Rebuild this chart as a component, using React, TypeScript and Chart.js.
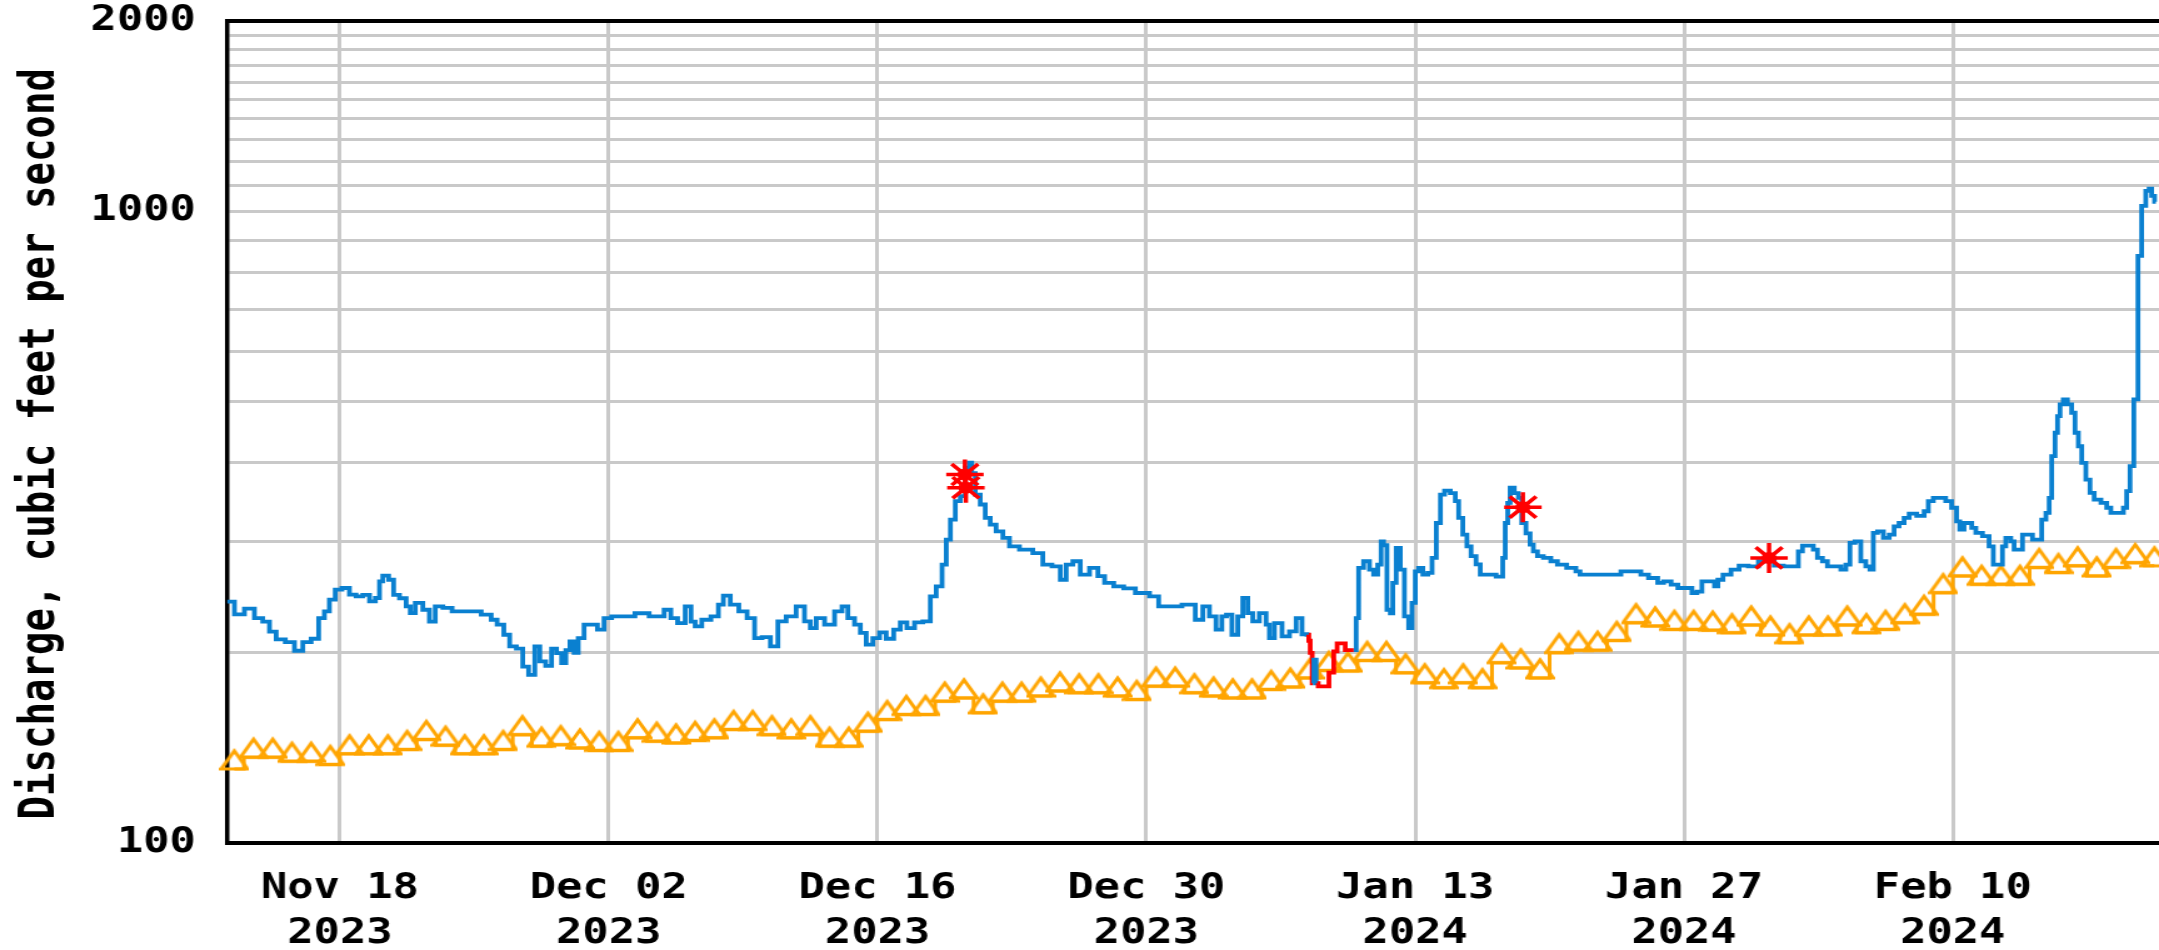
import React, { useEffect, useRef } from "react";
import { Chart, registerables } from "chart.js";

Chart.register(...registerables);

// ---------- axis / tick data ----------
// x values are days counted from 2023-11-18 00:00
const X_MIN = -5.88;
const X_MAX = 94.74;
const tickDays = [0, 14, 28, 42, 56, 70, 84];
const tickDates = ["Nov 18", "Dec 02", "Dec 16", "Dec 30", "Jan 13", "Jan 27", "Feb 10"];
const tickYears = ["2023", "2023", "2023", "2023", "2024", "2024", "2024"];
const yGridValues = [100, 200, 300, 400, 500, 600, 700, 800, 900, 1000, 1100, 1200, 1300, 1400, 1500, 1600, 1700, 1800, 1900, 2000];
const yLabeled = [100, 1000, 2000];
const yTitle = "Discharge, cubic feet per second";

// ---------- discharge (cfs), [day, value] ----------
const blueNov: [number, number][] = [
  [-5.88, 241], [-5.71, 241], [-5.28, 230], [-4.67, 235], [-4.24, 227], [-3.8, 224], [-3.54, 216], [-3.1, 210],
  [-2.59, 208], [-2.15, 201.5], [-1.72, 208], [-1.28, 210.5], [-0.94, 227], [-0.68, 232.6], [-0.42, 242.7],
  [-0.07, 251.8], [0.28, 253.3], [0.71, 247.2], [0.97, 245.6], [1.41, 247], [1.67, 241.2], [2.02, 244.2],
  [2.1, 259.5], [2.36, 264.9], [2.71, 261], [2.88, 247], [3.32, 244], [3.58, 236.8], [3.75, 231.2], [4.1, 239.9],
  [4.53, 234], [4.79, 224], [5.14, 236.8], [5.58, 235.5], [6.1, 232.6], [6.97, 232.6], [7.75, 229.8], [8.01, 225.6],
  [8.36, 221.6], [8.71, 213.6], [8.97, 204.7], [9.41, 203], [9.63, 190.2], [10.02, 184.6], [10.28, 204.7],
  [10.54, 193.8], [10.89, 190.7], [11.15, 203], [11.41, 199.8], [11.68, 192.6], [11.85, 201.9], [12.11, 208.5],
  [12.28, 200], [12.54, 211], [12.89, 221.6],
];
const blueDec: [number, number][] = [
  [13.24, 221.6], [13.58, 217.6], [13.93, 227], [14.37, 228.4], [15.23, 228.4], [15.5, 231], [16.71, 228.4],
  [17.06, 234], [17.41, 227], [17.76, 222.8], [18.2, 236.8], [18.37, 224], [18.63, 220.2], [19.06, 225.6],
  [19.58, 228.4], [19.84, 238.4], [20.1, 246.3], [20.56, 238.4], [20.99, 232.6], [21.42, 227], [21.77, 211],
  [22.2, 211.8], [22.64, 204.7], [22.98, 224.2], [23.5, 228.4], [24.02, 236.8], [24.37, 224.2], [24.63, 218.9],
  [24.98, 227], [25.5, 221.6], [26.02, 232.6], [26.28, 236.8], [26.63, 227], [26.97, 221.6], [27.24, 215],
  [27.58, 206], [27.93, 211], [28.28, 215.5], [28.62, 210.5], [29.06, 217.6], [29.31, 223.5], [29.75, 218.9],
  [30.1, 223.5], [30.62, 224.2], [30.88, 245.7], [31.23, 254.8], [31.49, 275.8], [31.67, 302.1], [31.92, 325],
  [32.18, 347.5], [32.44, 354], [32.7, 392.6], [32.85, 400], [32.96, 385], [33.22, 356], [33.48, 343.4],
  [33.74, 327], [34.0, 319], [34.35, 311.4], [34.7, 304], [35.04, 294.8], [35.74, 291.3], [36.43, 287.7],
  [36.78, 275.8], [37.39, 274.1], [37.65, 261], [38.0, 275.8], [38.34, 279.2], [38.78, 266], [39.3, 272.5],
  [39.65, 264.5], [40.0, 258], [40.6, 254.8], [41.04, 253], [41.82, 248.7], [42.51, 245.7], [42.77, 236.8],
  [43.38, 236.8],
];
const blueJan: [number, number][] = [
  [44.33, 238.4], [44.77, 225.6], [45.11, 236.8], [45.46, 228.4], [45.8, 217.6], [46.06, 228.4], [46.28, 229.8],
  [46.63, 213.6], [46.89, 228.4], [47.15, 244.2], [47.41, 231.2], [47.67, 224.2], [48.1, 231.2], [48.37, 221.6],
  [48.45, 211], [48.89, 222.9], [49.24, 212.3], [49.67, 216.2], [49.93, 227], [50.28, 214], [50.45, 213.6],
  [50.47, 209], [50.6, 200], [50.67, 179], [50.78, 195], [50.9, 179], [51.0, 177], [51.35, 177], [51.67, 186],
  [51.85, 201], [52.02, 207], [52.27, 207], [52.45, 202], [52.8, 202], [52.88, 202], [52.97, 227], [53.14, 272.5],
  [53.49, 279.2], [53.75, 270.8], [53.92, 266], [54.18, 275.8], [54.27, 300.3], [54.44, 296], [54.62, 234],
  [54.79, 231], [54.88, 258], [55.14, 293.1], [55.31, 270.8], [55.57, 228.4], [55.75, 218.9], [55.92, 239.9],
  [56.09, 269.2], [56.27, 272.5], [56.53, 266], [56.79, 267.6], [56.97, 282.7], [57.23, 321], [57.4, 356],
  [57.66, 361.3], [58.0, 358], [58.18, 347.5], [58.35, 327], [58.61, 307.7], [58.78, 294.8], [59.04, 284.4],
  [59.3, 276], [59.48, 266], [59.91, 266], [60.52, 264], [60.6, 282.7], [60.78, 321], [60.86, 345.4], [61.03, 365],
  [61.29, 358], [61.46, 351.8], [61.64, 321], [61.9, 309], [62.07, 296.7], [62.24, 289.5], [62.5, 284.4],
  [62.85, 282.7], [63.28, 279.2], [63.54, 275.8], [64.24, 272.5], [64.5, 269.2], [64.67, 266], [66.67, 266],
  [66.76, 269.2], [67.71, 269.2], [67.8, 266], [68.5, 262.7], [68.76, 258], [69.11, 259.5], [69.55, 256.4],
  [69.81, 253.3], [70.33, 253.3], [70.5, 248.7], [70.85, 250], [71.02, 259.5], [71.55, 259.5], [71.63, 254.8],
  [71.9, 261], [72.16, 266], [72.74, 270.8], [73.0, 274.8], [73.7, 274], [74.05, 279.2], [74.4, 282.7],
];
const blueFeb: [number, number][] = [
  [75.0, 274.8], [75.35, 274], [75.87, 274], [76.04, 289.5], [76.3, 295.5], [76.65, 295.5], [76.82, 291.3],
  [77.08, 282.7], [77.34, 279.2], [77.6, 274], [78.04, 274], [78.3, 270.8], [78.56, 275.8], [78.73, 298.5],
  [79.08, 300.3], [79.34, 279.2], [79.6, 274], [79.77, 270.8], [79.95, 309.6], [80.21, 311.4], [80.56, 304],
  [80.82, 307.7], [81.07, 317.1], [81.33, 321], [81.6, 327], [81.86, 332.2], [82.38, 329.5], [82.64, 335],
  [82.81, 347.5], [83.16, 351.8], [83.5, 351.8], [83.76, 347.5], [84.11, 339.3], [84.28, 323], [84.45, 313.4],
  [84.72, 321], [84.9, 321], [85.07, 315.3], [85.33, 309.6], [85.76, 305.9], [86.02, 294.8], [86.2, 275.8],
  [86.54, 275.8], [86.63, 294.8], [86.89, 304], [87.15, 300.3], [87.24, 291.3], [87.59, 291.3], [87.67, 307.7],
  [88.02, 307.7], [88.28, 302.1], [88.54, 302.1], [88.72, 325], [88.98, 333], [89.06, 351.8], [89.24, 409.5],
  [89.41, 446], [89.5, 473.7], [89.67, 494.6], [89.84, 503.5], [90.1, 494.6], [90.28, 479.7], [90.45, 446],
  [90.63, 424.6], [90.8, 399.6], [91.06, 376], [91.23, 358.2], [91.5, 349.6], [91.93, 345.4], [92.1, 339.3],
  [92.36, 333], [92.8, 333], [92.97, 339.3], [93.14, 360.4], [93.32, 394.8], [93.54, 503.5], [93.75, 849.6],
  [93.92, 1019.5], [94.18, 1077], [94.27, 1086], [94.44, 1057.6], [94.58, 1035],
];
// estimated-data periods (drawn red), in days from 2023-11-18
const estRanges: [number, number][] = [[50.46, 50.7], [50.95, 52.85]];

// ---------- median daily statistic (cfs) ----------
const medianNovStart = 12; // Nov 12 .. Nov 30
const medianNov = [131, 136.7, 136.7, 134.7, 134.7, 133.1, 138.4, 138.4, 138.4, 140.6, 145.8, 142.8, 138.4, 138.4, 140.6, 148.4, 142.3, 143.1, 141.4];
const medianDec = [140.1, 140.1, 146.7, 144.9, 144.0, 145.3, 146.7, 151.2, 151.2, 148.4, 146.7, 148.4, 142.3, 142.3, 150.3, 156.8, 159.7, 159.7, 167.7, 169.7, 160.7, 167.7, 167.7, 170.8, 174.0, 172.9, 172.9, 170.8, 168.7, 177.1, 177.1];
const medianJan = [172.9, 170.8, 169.7, 169.7, 175, 176.5, 182.5, 187.5, 187.1, 194.5, 194.5, 185.9, 179.3, 176.1, 179.3, 176.1, 192.9, 189.3, 182.5, 200.1, 201.8, 201.8, 209.2, 223.2, 220.5, 217.8, 217.8, 217.2, 215.2, 221.3, 213.4];
const medianFeb = [207.5, 213.4, 213.4, 221.3, 215.2, 217.8, 223.2, 230.1, 249, 264.7, 256.7, 256.7, 256.7, 272.9, 267.9, 274.6, 264.7, 272.9, 277.8, 274.6];

// ---------- field measurements ----------
const measDay = [32.55, 32.6, 61.61, 74.43];
const measCfs = [383, 365, 340, 282.6];

// ---------- styles ----------
const BLUE = "#0a80d0";
const ORANGE = "#ffa500";
const RED = "#ff0000";
const GRID = "#c9c9c9";
const FONT = "'DejaVu Sans Mono', monospace";
const CANVAS_W = 1727;
const CANVAS_H = 950;

function dayOffset(y: number, m: number, d: number): number {
  return (Date.UTC(y, m - 1, d) - Date.UTC(2023, 10, 18)) / 86400000;
}

export default function App() {
  const ref = useRef<HTMLCanvasElement | null>(null);

  useEffect(() => {
    const canvas = ref.current;
    if (!canvas) return;

    const marker = document.createElement("canvas");
    marker.width = 24;
    marker.height = 44;
    const m = marker.getContext("2d")!;
    m.strokeStyle = ORANGE;
    m.lineWidth = 3;
    m.lineJoin = "miter";
    m.beginPath();
    m.moveTo(1.5, 22);
    m.lineTo(12, 4);
    m.lineTo(22.5, 22);
    m.closePath();
    m.stroke();

    const blue = [...blueNov, ...blueDec, ...blueJan, ...blueFeb].map(([x, y]) => ({ x, y }));
    const median = [
      ...medianNov.map((v, i) => ({ x: dayOffset(2023, 11, medianNovStart + i) + 0.5, y: v })),
      ...medianDec.map((v, i) => ({ x: dayOffset(2023, 12, 1 + i) + 0.5, y: v })),
      ...medianJan.map((v, i) => ({ x: dayOffset(2024, 1, 1 + i) + 0.5, y: v })),
      ...medianFeb.map((v, i) => ({ x: dayOffset(2024, 2, 1 + i) + 0.5, y: v })),
    ];
    const meas = measDay.map((x, i) => ({ x, y: measCfs[i] }));
    const isEst = (x: number) => estRanges.some(([a, b]) => x >= a && x <= b);

    const tickFont = { family: FONT, weight: "bold" as const, size: 35, lineHeight: 1.2 };

    const chart = new Chart(canvas, {
      type: "line",
      data: {
        datasets: [
          {
            label: "Measured discharge",
            data: meas,
            showLine: false,
            pointStyle: "star",
            pointRadius: 15,
            pointBorderWidth: 3.5,
            pointBorderColor: RED,
            pointBackgroundColor: RED,
            borderColor: RED,
            backgroundColor: RED,
          },
          {
            label: "Measured discharge centre",
            data: meas,
            showLine: false,
            pointStyle: "circle",
            pointRadius: 6,
            pointBorderWidth: 0,
            pointBackgroundColor: RED,
            borderColor: RED,
            backgroundColor: RED,
          },
          {
            label: "Discharge",
            data: blue,
            borderColor: BLUE,
            backgroundColor: BLUE,
            borderWidth: 3.8,
            pointRadius: 0,
            stepped: "middle",
            segment: {
              borderColor: (c: any) => (isEst(blue[c.p1DataIndex].x) ? RED : undefined),
            },
          },
          {
            label: "Median daily statistic",
            data: median,
            showLine: true,
            stepped: "middle",
            borderWidth: 3,
            pointStyle: marker,
            pointRadius: 10,
            clip: false,
            borderColor: ORANGE,
            backgroundColor: ORANGE,
          },
        ],
      },
      options: {
        responsive: false,
        maintainAspectRatio: false,
        devicePixelRatio: 1,
        animation: false,
        events: [],
        layout: { padding: 0, autoPadding: false },
        plugins: { legend: { display: false }, tooltip: { enabled: false }, title: { display: false } },
        scales: {
          x: {
            type: "linear",
            position: "bottom",
            min: X_MIN,
            max: X_MAX,
            afterBuildTicks: (s: any) => {
              s.ticks = tickDays.map((v) => ({ value: v }));
            },
            afterFit: (s: any) => {
              s.height = 107;
              s.paddingLeft = 0;
              s.paddingRight = 0;
            },
            ticks: {
              autoSkip: false,
              maxRotation: 0,
              minRotation: 0,
              padding: 24,
              color: "#000",
              font: { ...tickFont, lineHeight: 1.28 },
              callback: (v: any) => {
                const i = tickDays.indexOf(Number(v));
                return i >= 0 ? [tickDates[i], tickYears[i]] : "";
              },
            },
            grid: { color: GRID, lineWidth: 3, drawTicks: false },
            border: { color: "#000", width: 4 },
          },
          x2: {
            type: "linear",
            position: "top",
            min: X_MIN,
            max: X_MAX,
            afterFit: (s: any) => {
              s.height = 21;
              s.paddingLeft = 0;
              s.paddingRight = 0;
            },
            ticks: { display: false },
            grid: { display: false, drawTicks: false },
            border: { display: true, color: "#000", width: 4 },
          },
          y: {
            type: "logarithmic",
            min: 100,
            max: 2000,
            afterBuildTicks: (s: any) => {
              s.ticks = yGridValues.map((v) => ({ value: v }));
            },
            afterFit: (s: any) => {
              s.width = 181.6;
              s.paddingTop = 0;
              s.paddingBottom = 0;
            },
            ticks: {
              autoSkip: false,
              padding: 25,
              color: "#000",
              font: tickFont,
              callback: (v: any) => (yLabeled.includes(Number(v)) ? String(v) : ""),
            },
            grid: { color: GRID, lineWidth: 3, drawTicks: false },
            border: { color: "#000", width: 3.5 },
            title: {
              display: true,
              text: yTitle + " ",
              color: "#000",
              font: { family: FONT, weight: "bold", size: 39, lineHeight: 1.2 },
              padding: { top: 9.4, bottom: 0 },
            },
          },
        },
      },
    } as any);

    return () => chart.destroy();
  }, []);

  return (
    <canvas
      ref={ref}
      width={CANVAS_W}
      height={CANVAS_H}
      style={{ position: "absolute", left: 0, top: 0, width: "2159px", height: "950px" }}
    />
  );
}
